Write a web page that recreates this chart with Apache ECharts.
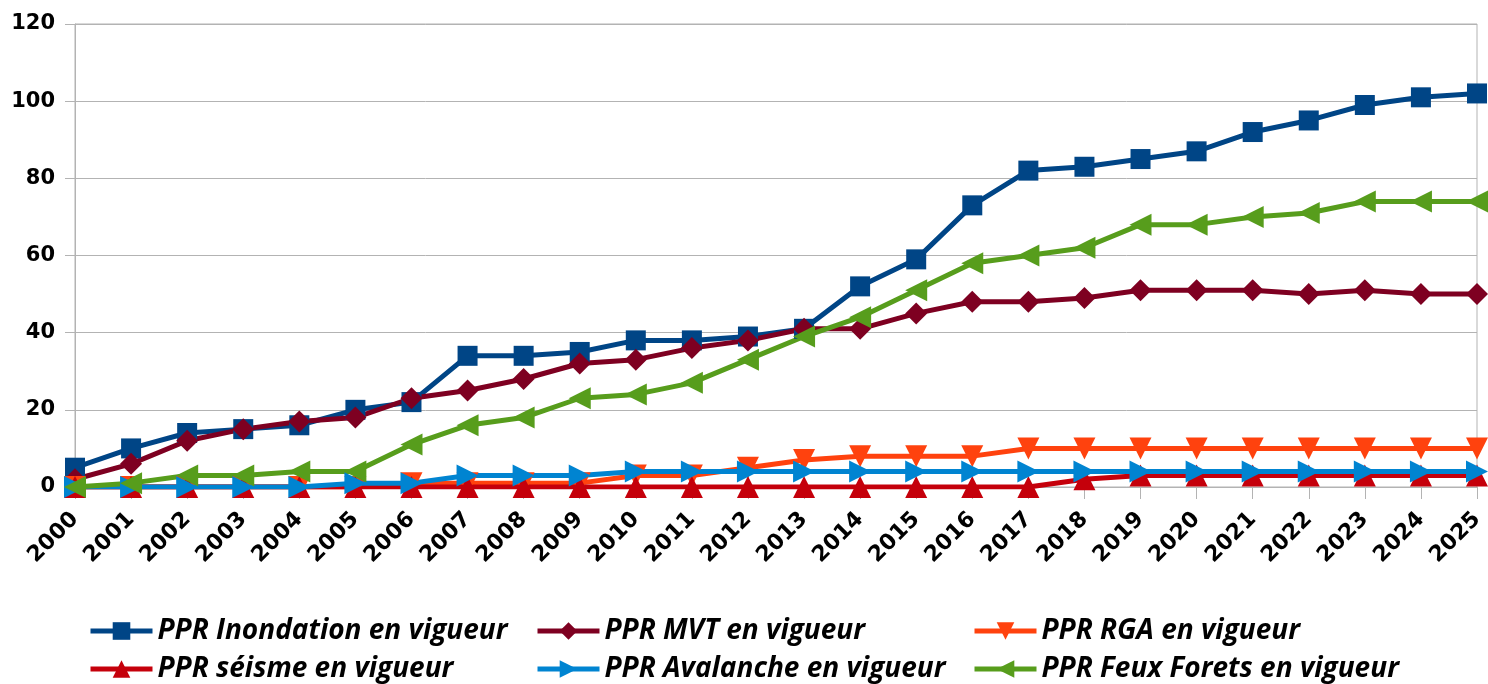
<!DOCTYPE html>
<html>
<head>
    <meta charset="utf-8">
    <title>PPR en vigueur</title>
    <script src="https://cdn.jsdelivr.net/npm/echarts@6/dist/echarts.min.js"></script>
    <style>
        body { margin: 0; background: #fff; }
        #chart { width: 1488px; height: 684px; }
    </style>
</head>
<body>
    <div id="chart"></div>
    <script type="text/javascript">
        var years = ['2000', '2001', '2002', '2003', '2004', '2005', '2006', '2007', '2008', '2009',
            '2010', '2011', '2012', '2013', '2014', '2015', '2016', '2017', '2018', '2019',
            '2020', '2021', '2022', '2023', '2024', '2025'];

        var inondation = [5, 10, 14, 15, 16, 20, 22, 34, 34, 35, 38, 38, 39, 41, 52, 59, 73, 82, 83, 85, 87, 92, 95, 99, 101, 102];
        var mvt = [2, 6, 12, 15, 17, 18, 23, 25, 28, 32, 33, 36, 38, 41, 41, 45, 48, 48, 49, 51, 51, 51, 50, 51, 50, 50];
        var rga = [0, 0, 0, 0, 0, 0, 1, 1, 1, 1, 3, 3, 5, 7, 8, 8, 8, 10, 10, 10, 10, 10, 10, 10, 10, 10];
        var seisme = [0, 0, 0, 0, 0, 0, 0, 0, 0, 0, 0, 0, 0, 0, 0, 0, 0, 0, 2, 3, 3, 3, 3, 3, 3, 3];
        var avalanche = [0, 0, 0, 0, 0, 1, 1, 3, 3, 3, 4, 4, 4, 4, 4, 4, 4, 4, 4, 4, 4, 4, 4, 4, 4, 4];
        var feux = [0, 1, 3, 3, 4, 4, 11, 16, 18, 23, 24, 27, 33, 39, 44, 51, 58, 60, 62, 68, 68, 70, 71, 74, 74, 74];

        var names = ['PPR Inondation en vigueur', 'PPR MVT en vigueur', 'PPR RGA en vigueur',
            'PPR séisme en vigueur', 'PPR Avalanche en vigueur', 'PPR Feux Forets en vigueur'];
        var colors = ['#004586', '#7e0021', '#ff420e', '#c5000b', '#0084d1', '#579d1c'];

        function serie(i, data, symbol, size, rotate) {
            return {
                name: names[i],
                type: 'line',
                data: data,
                symbol: symbol,
                symbolSize: size,
                symbolRotate: rotate || 0,
                lineStyle: { width: 5, color: colors[i] },
                itemStyle: { color: colors[i] },
                animation: false
            };
        }

        // one legend per item, 3 columns x 2 rows
        function legendItem(i, left, top) {
            return {
                left: left,
                top: top,
                itemWidth: 62,
                itemHeight: 22,
                itemGap: 0,
                lineStyle: { width: 5 },
                textStyle: {
                    fontFamily: 'Open Sans',
                    fontWeight: 'bold',
                    fontStyle: 'italic',
                    fontSize: 28,
                    color: '#000',
                    padding: [0, 0, 0, 0]
                },
                data: [names[i]]
            };
        }

        var myChart = echarts.init(document.getElementById('chart'));
        var option = {
            backgroundColor: '#fff',
            color: colors,
            grid: {
                left: 75, right: 11, top: 24, bottom: 197,
                show: true, borderColor: '#b3b3b3', borderWidth: 1
            },
            legend: [
                legendItem(0, 83, 612),
                legendItem(3, 83, 650),
                legendItem(1, 530, 612),
                legendItem(4, 530, 650),
                legendItem(2, 967, 612),
                legendItem(5, 967, 650)
            ],
            xAxis: {
                type: 'category',
                data: years,
                boundaryGap: false,
                axisLine: { lineStyle: { color: '#b3b3b3', width: 1 } },
                axisTick: { show: true, length: 12, lineStyle: { color: '#b3b3b3' } },
                splitLine: { show: false },
                axisLabel: {
                    interval: 0,
                    rotate: 45,
                    margin: 29,
                    fontFamily: 'DejaVu Sans',
                    fontWeight: 'bold',
                    fontSize: 22,
                    color: '#000'
                }
            },
            yAxis: {
                type: 'value',
                min: 0,
                max: 120,
                interval: 20,
                axisLine: { show: true, lineStyle: { color: '#b3b3b3' } },
                axisTick: { show: true, length: 10, lineStyle: { color: '#b3b3b3' } },
                splitLine: { lineStyle: { color: '#b3b3b3', width: 1 } },
                axisLabel: {
                    margin: 20,
                    fontFamily: 'DejaVu Sans',
                    fontWeight: 'bold',
                    fontSize: 21,
                    color: '#000'
                }
            },
            series: [
                serie(0, inondation, 'rect', 20),
                serie(1, mvt, 'diamond', 22),
                serie(2, rga, 'triangle', 22, 180),
                serie(3, seisme, 'triangle', 22),
                serie(4, avalanche, 'triangle', 22, -90),
                serie(5, feux, 'triangle', 22, 90)
            ]
        };
        myChart.setOption(option);
    </script>
</body>
</html>
